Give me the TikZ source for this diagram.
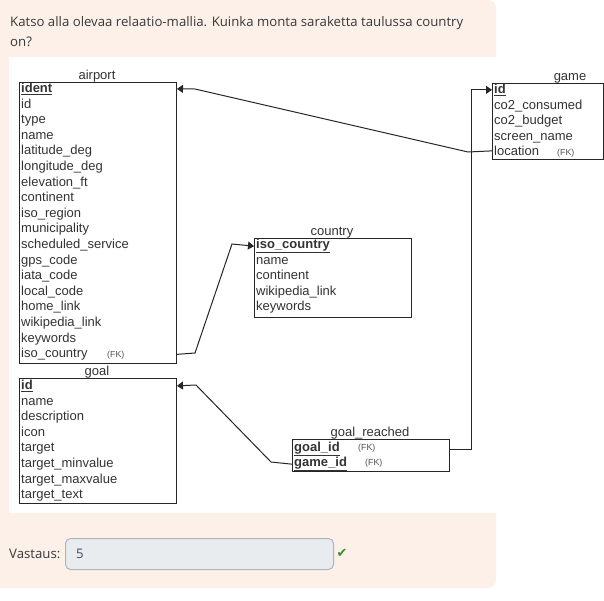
\documentclass[tikz,border=0pt]{standalone}
\usepackage{fontspec}
\setmainfont{Liberation Sans}
\newfontfamily\uifont{Open Sans}
\newfontfamily\symfont{DejaVu Sans}
\usetikzlibrary{arrows.meta}
\definecolor{peach}{HTML}{FDF0E8}
\definecolor{uitext}{HTML}{373A3C}
\definecolor{dtext}{HTML}{333333}
\definecolor{inputbg}{HTML}{E9ECEF}
\definecolor{inputbd}{HTML}{ADB5BD}
\definecolor{inputtx}{HTML}{3A4A6A}
\definecolor{okgreen}{HTML}{3C8C2C}
\begin{document}
\begin{tikzpicture}[x=1pt,y=-1pt,
  row/.style={anchor=base west, inner sep=0, font=\fontsize{13}{15}\selectfont, text=dtext},
  ttl/.style={anchor=base, inner sep=0, font=\fontsize{13}{15}\selectfont, text=dtext},
  fk/.style={anchor=base west, inner sep=0, font=\fontsize{8.8}{10}\selectfont, text=dtext!85},
  tbl/.style={draw=black!85, line width=1, anchor=north west, inner sep=0},
  link/.style={draw=black!85, line width=1, -{Triangle[length=6,width=8]}},
  ui/.style={font=\uifont\fontsize{13.2}{20}\selectfont, text=uitext, inner sep=0, anchor=base west},
]
\useasboundingbox (0,0) rectangle (604,600);
% backgrounds
\fill[peach, rounded corners=8] (-20,0) rectangle (496,588);
\fill[white] (9,57) rectangle (620,513);

% question
\node[ui] (q1) at (10,26) {Katso alla olevaa relaatio-mallia. Kuinka monta saraketta taulussa country};
\node[ui] (q2) at (10,46.5) {on?};

% airport
\node[tbl, minimum width=157, minimum height=281] (airport) at (19,82) {};
\node[ttl] (airportT) at (97,79) {airport};
\foreach \t [count=\i] in {{\underline{\textbf{ident}}},id,type,name,latitude\_deg,longitude\_deg,elevation\_ft,continent,iso\_region,municipality,scheduled\_service,gps\_code,iata\_code,local\_code,home\_link,wikipedia\_link,keywords,iso\_country}
  \node[row] (a\i) at (21,{92.5+15.6*(\i-1)}) {\t};
\node[fk] (afk) at (107,357) {(FK)};

% game
\node[tbl, minimum width=111, minimum height=76] (game) at (492,83) {};
\node[ttl] (gameT) at (570,80) {game};
\foreach \t [count=\i] in {{\underline{\textbf{id}}},co2\_consumed,co2\_budget,screen\_name,location}
  \node[row] (g\i) at (494,{93.5+15.5*(\i-1)}) {\t};
\node[fk] (gfk) at (557,155) {(FK)};

% country
\node[tbl, minimum width=157, minimum height=79] (country) at (254,238) {};
\node[ttl] (countryT) at (332,235.5) {country};
\foreach \t [count=\i] in {{\underline{\textbf{iso\_country}}},name,continent,wikipedia\_link,keywords}
  \node[row] (c\i) at (256,{248.5+15.5*(\i-1)}) {\t};

% goal
\node[tbl, minimum width=157, minimum height=125] (goal) at (19,378) {};
\node[ttl] (goalT) at (97,375) {goal};
\foreach \t [count=\i] in {{\underline{\textbf{id}}},name,description,icon,target,target\_minvalue,target\_maxvalue,target\_text}
  \node[row] (o\i) at (21,{389.5+15.6*(\i-1)}) {\t};

% goal_reached
\node[tbl, minimum width=157, minimum height=32] (gr) at (292,439) {};
\node[ttl] (grT) at (370,436.5) {goal\_reached};
\node[row] (r1) at (294,451.5) {\underline{\textbf{goal\_id}}};
\node[row] (r2) at (294,466.5) {\underline{\textbf{game\_id}}};
\node[fk] (rfk1) at (358,450) {(FK)};
\node[fk] (rfk2) at (365,465) {(FK)};

% connectors
\draw[link] (game.west |- g5) -- (468,152) -- (195,89) -- (airport.east |- a1);
\draw[link] (airport.east |- a18) -- (195,353) -- (232,244) -- (country.west |- c1);
\draw[link] (gr.east |- r1) -- ++(21,0) |- (game.west |- g1);
\draw[link] (gr.west |- r2) -- (271,462) -- (196,385) -- (goal.east |- o1);

% answer
\node[ui] (lbl) at (9,558) {Vastaus:};
\node[draw=inputbd, fill=inputbg, rounded corners=5, minimum width=268, minimum height=31, anchor=north west, line width=1, inner sep=0] (inp) at (65,538) {};
\node[ui, text=inputtx] (val) at (76,558) {5};
\node[text=okgreen, font=\symfont\fontsize{13}{13}\selectfont, inner sep=0] (ok) at (342,553) {✔};
\end{tikzpicture}
\end{document}
